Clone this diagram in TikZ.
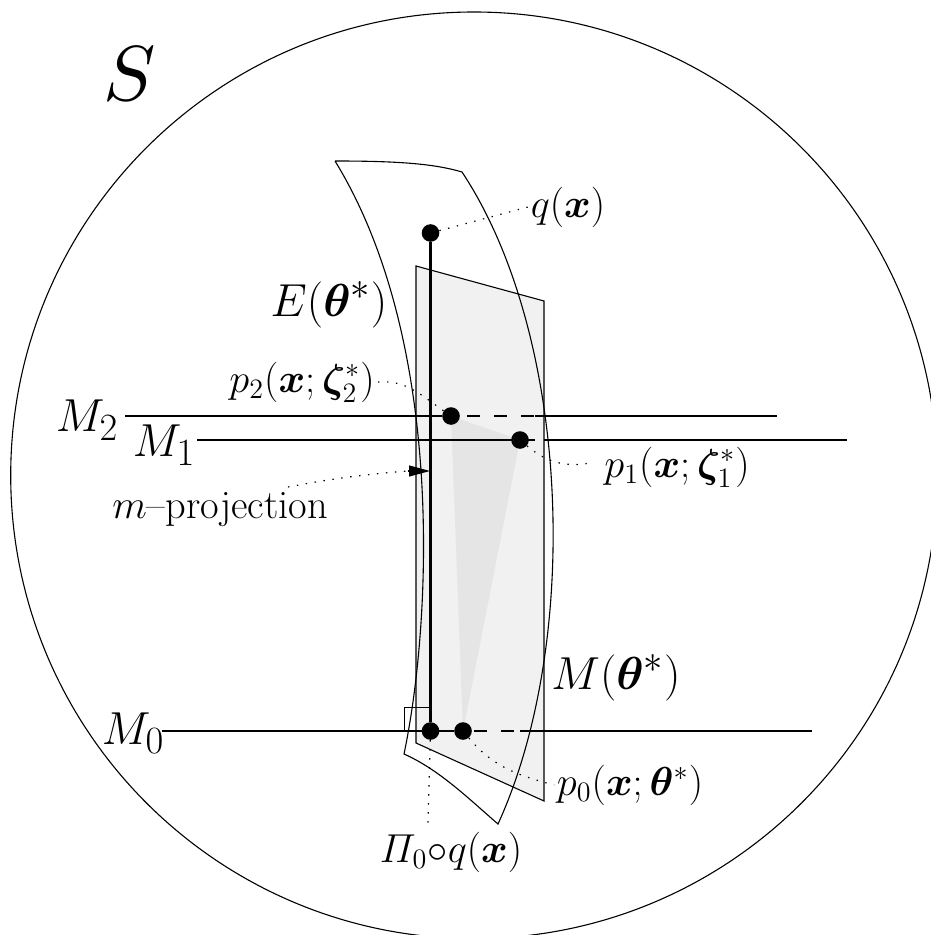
\documentclass[tikz,border=0pt]{standalone}
\usepackage{amsmath}
\usepackage{amssymb}
\usepackage{bm}
\usepackage{xcolor}
\usepackage{tikz}
\usetikzlibrary{arrows.meta,positioning,calc}

\definecolor{planegray}{HTML}{F1F1F1}
\definecolor{trigray}{HTML}{E5E5E5}
\tikzset{
  thinline/.style={line width=0.55pt},
  fatline/.style={line width=1.15pt},
  leader/.style={line width=0.6pt, dash pattern=on 0.7pt off 3.8pt},
  dotnode/.style={circle, fill=black, inner sep=0pt, minimum size=8.8pt},
  lbl/.style={inner sep=1pt, font=\LARGE, scale=1.17},
  biglbl/.style={inner sep=1pt, font=\Huge, scale=0.93},
}

\begin{document}
\begin{tikzpicture}[x=0.5pt,y=-0.5pt]
\useasboundingbox (0,0) rectangle (930,935);
% large circle
\draw[thinline] (474,475.3) circle[radius=463.3];
\node[scale=3.9] (lblS) at (130,74) {$S$};

% gray plane
\draw[thinline, fill=planegray] (416,266) -- (544,301) -- (544,801) -- (416,743) -- cycle;
\fill[trigray] (451,416) -- (520,440) -- (463,731) -- cycle;
% curved surface
\draw[thinline] (335,161) .. controls (400,161) and (435,164) .. (462,172)
  .. controls (570,335) and (582,640) .. (498,824)
  .. controls (470,800) and (440,770) .. (404,754)
  .. controls (432,620) and (445,340) .. (335,161);

% points
\node[dotnode] (dotq) at (430.5,233) {};
\node[dotnode] (dotptwo) at (451,416) {};
\node[dotnode] (dotpone) at (520,440) {};
\node[dotnode] (dotpzero) at (463,731) {};
\node[dotnode] (dotpi) at (430.5,731) {};

% labels
\node[lbl] (lblq) at (568,207) {$q(\boldsymbol{x})$};
\node[biglbl] (lblE) at (329,305) {$E(\boldsymbol{\theta}^{*})$};
\node[lbl] (lblptwo) at (302,382) {$p_2(\boldsymbol{x};\boldsymbol{\zeta}_2^{*})$};
\node[lbl] (lblpone) at (677,467) {$p_1(\boldsymbol{x};\boldsymbol{\zeta}_1^{*})$};
\node[lbl] (lblpzero) at (630,785) {$p_0(\boldsymbol{x};\boldsymbol{\theta}^{*})$};
\node[biglbl] (lblM) at (616,678) {$M(\boldsymbol{\theta}^{*})$};
\node[biglbl] (lblmtwo) at (87,420) {$M_2$};
\node[biglbl] (lblmone) at (164,445) {$M_1$};
\node[biglbl] (lblmzero) at (133,733) {$M_0$};
\node[lbl] (lblproj) at (220,510) {$m$--projection};
\node[lbl] (lblpi) at (451,852) {$\varPi_0{\circ}q(\boldsymbol{x})$};

% free ends and hidden parts of the lines
\coordinate (mtwoa) at (125,416);
\coordinate (mtwob) at (535,416);
\coordinate (mtwoc) at (777,416);
\coordinate (monea) at (197,440);
\coordinate (moneb) at (535,440);
\coordinate (monec) at (544,440);
\coordinate (moned) at (847,440);
\coordinate (mzeroa) at (162,731);
\coordinate (mzerob) at (520,731);
\coordinate (mzeroc) at (812,731);
\coordinate (arrowbase) at (408,471);
\coordinate (arrowtip) at (430,471);
\coordinate (projend) at (288,487);
\coordinate (pioneend) at (590,463);
\coordinate (piend) at (428,825);

% lines
\draw[fatline] (mtwoa) -- (dotptwo);
\draw[fatline, dash pattern=on 6.5pt off 7pt, dash phase=-3.5pt] (dotptwo) -- (mtwob);
\draw[fatline] (mtwob) -- (mtwoc);
\draw[fatline] (monea) -- (moneb);
\draw[fatline] (monec) -- (moned);
\draw[fatline] (mzeroa) -- (dotpzero);
\draw[fatline, dash pattern=on 6.5pt off 7pt, dash phase=-1pt] (dotpzero) -- (mzerob);
\draw[fatline] (mzerob) -- (mzeroc);
\draw[fatline] (dotq) -- (dotpi);

% right angle mark
\draw[line width=0.5pt] (404,731) -- (404,707) -- (431,707);

% dotted leaders
\draw[leader] (dotq) -- (lblq.west);
\draw[leader] (dotptwo) to[out=145,in=5] (lblptwo.east);
\draw[leader] (dotpone) to[out=-40,in=190] (pioneend);
\draw[leader] (dotpzero) to[out=-50,in=165] (lblpzero.west);
\draw[leader] (dotpi) -- (piend);
\draw[leader] (projend) to[bend left=3] (arrowbase);
\draw[thinline, -{Triangle[length=10.5pt,width=5.5pt]}] (arrowbase) -- (arrowtip);
\end{tikzpicture}
\end{document}
